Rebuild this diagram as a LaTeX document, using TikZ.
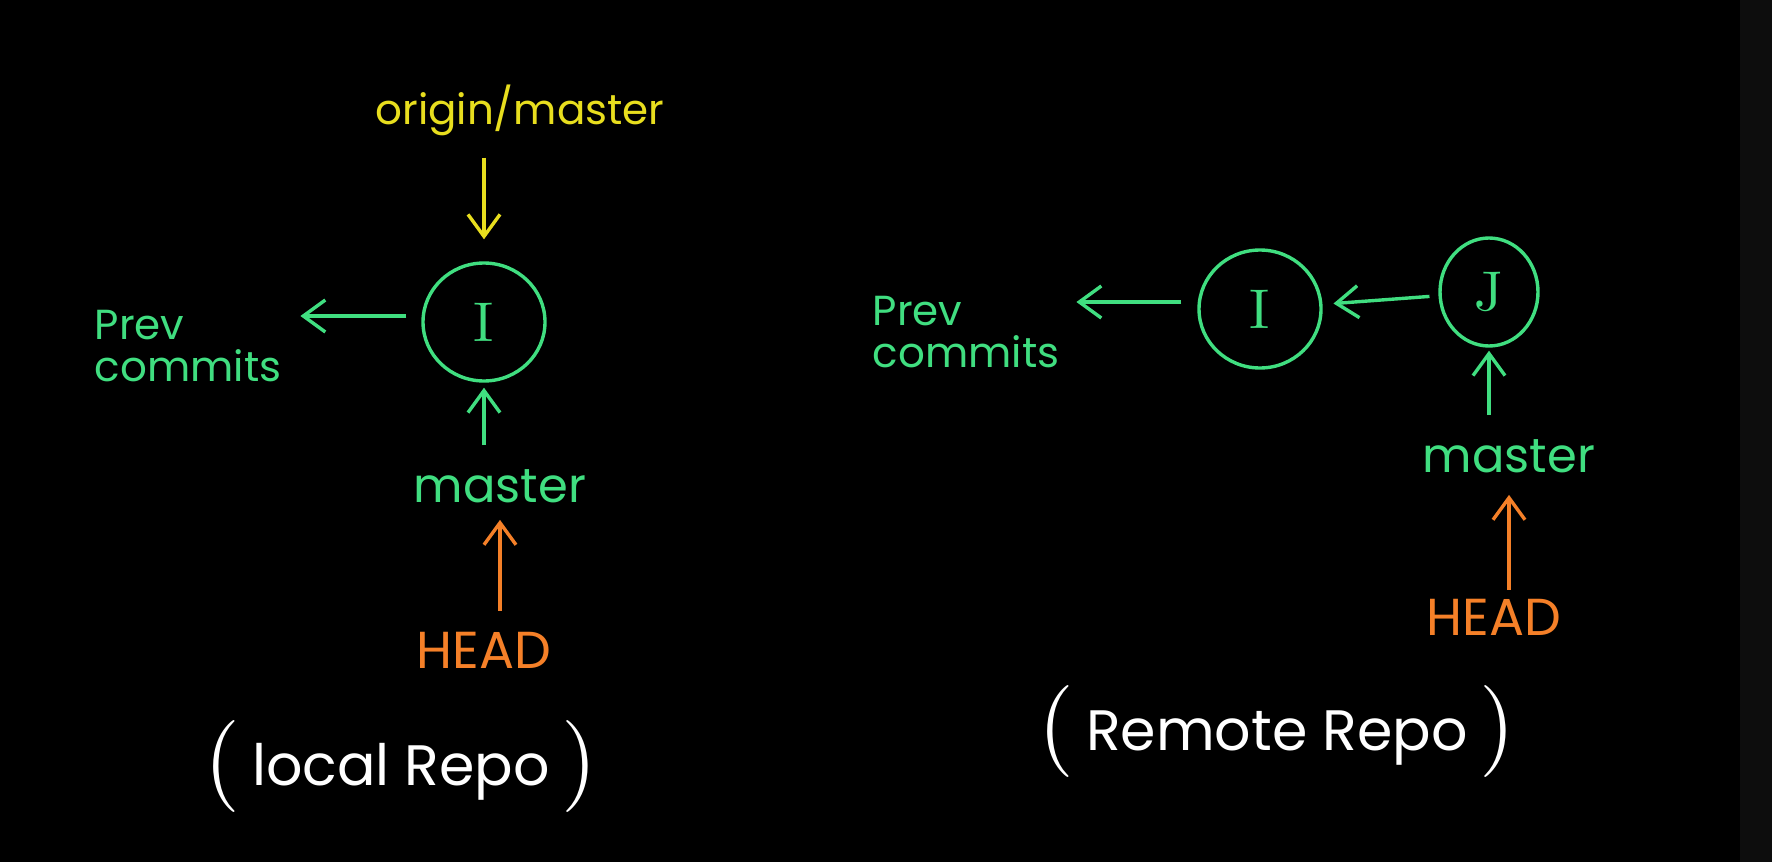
\documentclass[tikz,border=0pt]{standalone}
\usepackage{fontspec}
\setmainfont{Poppins}
\newfontfamily\parenfont{lmroman10-regular}[Extension=.otf]
\usepackage{xcolor}
\usetikzlibrary{shapes.geometric, arrows.meta, positioning}

\definecolor{chalkgreen}{RGB}{64,222,128}
\definecolor{chalkyellow}{RGB}{232,222,30}
\definecolor{chalkorange}{RGB}{245,128,40}
\newcommand{\bigparen}[1]{{\parenfont\fontsize{92}{92}\selectfont\raisebox{-0.04em}{#1}}}

\begin{document}
\begin{tikzpicture}[x=1pt, y=-1pt]
				% Styles
				\tikzstyle{tag} = [font=\fontsize{42}{42}\selectfont, inner sep=2pt]
				\tikzstyle{commit} = [draw=chalkgreen, line width=3.4pt, ellipse, minimum width=122pt, minimum height=118pt, inner sep=0pt, text=chalkgreen, font=\parenfont\fontsize{56}{56}\selectfont]
				\tikzstyle{repo} = [text=white, font=\fontsize{57}{57}\selectfont]
				\tikzstyle{arrow} = [line width=3.4pt, -{Straight Barb[length=22pt, width=32pt]}]

				% Board
				\fill [black] (0,0) rectangle (1772,862);
				\fill [black!95!white] (1740,0) rectangle (1772,862);
				\useasboundingbox (0,0) rectangle (1772,862);

				% Local repo (absolute coordinates, pixels)
				\node (originL) [tag, text=chalkyellow] at (520,110) {origin/master};
				\node (commitL) [commit] at (484,322) {I};
				\node (prevL) [tag, text=chalkgreen, align=left] at (188,346) {Prev\\commits};
				\node (masterL) [tag, text=chalkgreen, font=\fontsize{48}{48}\selectfont] at (500,486) {master};
				\node (headL) [tag, text=chalkorange, font=\fontsize{52}{52}\selectfont] at (484,650) {HEAD};
				\node (repoL) [repo] at (401,766) {\bigparen{(}\hspace{12pt}local Repo\hspace{12pt}\bigparen{)}};

				% Remote repo
				\node (prevR) [tag, text=chalkgreen, align=left] at (966,332) {Prev\\commits};
				\node (commitRI) [commit] at (1260,309) {I};
				\node (commitRJ) [commit, minimum width=98pt, minimum height=108pt] at (1489,292) {J};
				\node (masterR) [tag, text=chalkgreen, font=\fontsize{48}{48}\selectfont] at (1509,456) {master};
				\node (headR) [tag, text=chalkorange, font=\fontsize{52}{52}\selectfont] at (1494,617) {HEAD};
				\node (repoR) [repo] at (1277,731) {\bigparen{(}\hspace{12pt}Remote Repo\hspace{12pt}\bigparen{)}};

				% Connections
				\draw [arrow, chalkyellow, shorten <=20pt, shorten >=22pt] (originL.south -| commitL) -- (commitL.north);
				\draw [arrow, chalkgreen, shorten <=15pt, shorten >=17pt] ([yshift=6pt]commitL.west) -- ([yshift=6pt]commitL.west -| prevL.east);
				\draw [arrow, chalkgreen, shorten <=22pt, shorten >=5pt] (masterL.north -| commitL) -- (commitL.south);
				\draw [arrow, chalkorange, shorten <=19pt, shorten >=15pt] (headL.north -| masterL.south) -- (masterL.south);
				\draw [arrow, chalkgreen, shorten <=16pt, shorten >=15pt] ([yshift=7pt]commitRI.west) -- ([yshift=7pt]commitRI.west -| prevR.east);
				\draw [arrow, chalkgreen, shorten <=9pt, shorten >=11pt] (commitRJ) -- (commitRI);
				\draw [arrow, chalkgreen, shorten <=22pt, shorten >=3pt] (masterR.north -| commitRJ) -- (commitRJ.south);
				\draw [arrow, chalkorange, shorten <=7pt, shorten >=20pt] (headR.north -| masterR.south) -- (masterR.south);

			\end{tikzpicture}
\end{document}
